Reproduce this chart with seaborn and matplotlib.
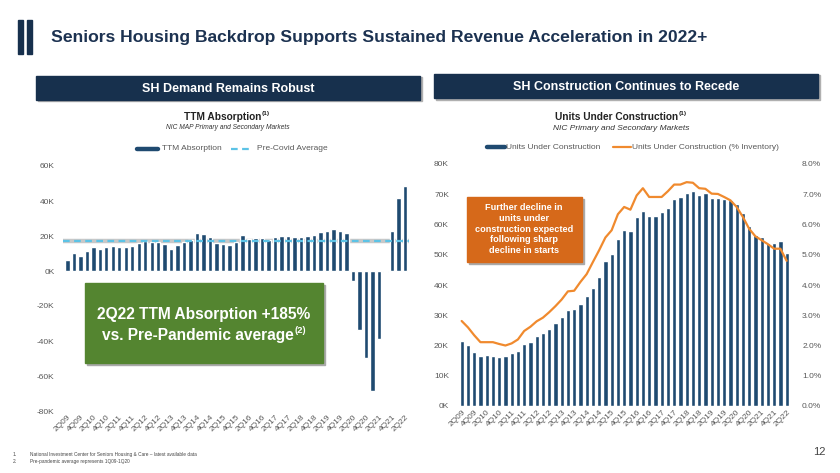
import numpy as np
import pandas as pd
import matplotlib
matplotlib.use("Agg")
import matplotlib.pyplot as plt
from matplotlib.patches import Rectangle
from matplotlib.lines import Line2D
import seaborn as sns

# ---------------- data ----------------
quarters = [f"{q}Q{y:02d}" for y in range(9, 23) for q in range(1, 5)][1:-2]  # 2Q09 .. 2Q22
tick_labels = quarters[::2]

ttm_absorption = [6200, 10500, 8600, 11200, 13500, 12400, 13800, 14500, 13800, 13800,
                  14500, 15900, 16900, 16500, 16500, 15300, 12400, 14700, 16600, 17800,
                  21500, 21100, 19700, 15900, 15700, 15100, 16400, 20700, 18400, 18700,
                  18900, 18000, 19700, 19900, 19900, 19500, 19700, 19900, 20800, 22400,
                  23000, 23900, 23000, 21600, -5800, -33500, -49800, -68400, -38700, -300,
                  23000, 42000, 48500]
pre_covid_avg = 17000

units_under_construction = [21500, 20300, 18000, 16500, 16700, 16600, 16300, 16400, 17400, 18100,
                            20400, 21200, 23200, 24000, 25600, 27500, 29500, 31600, 32000, 33600,
                            36400, 39000, 42700, 47900, 50400, 55300, 58100, 57700, 62500, 64500,
                            62700, 62800, 64000, 65600, 68500, 69100, 70400, 71100, 69600, 70400,
                            68700, 68700, 68500, 68000, 66700, 63900, 59600, 56400, 55900, 53900,
                            53900, 54700, 50700]
pct_inventory = [2.81, 2.60, 2.34, 2.11, 2.11, 2.11, 2.05, 2.00, 2.07, 2.20,
                 2.48, 2.62, 2.80, 2.92, 3.10, 3.30, 3.52, 3.79, 3.81, 4.10,
                 4.36, 4.76, 5.15, 5.57, 5.81, 6.34, 6.58, 6.49, 6.96, 7.20,
                 6.91, 6.91, 6.91, 7.10, 7.32, 7.32, 7.40, 7.38, 7.20, 7.18,
                 7.02, 7.01, 6.91, 6.80, 6.58, 6.25, 5.86, 5.61, 5.48, 5.35,
                 5.20, 5.20, 4.80]

left_yticks = [-80000, -60000, -40000, -20000, 0, 20000, 40000, 60000]
right_yticks = [0, 10000, 20000, 30000, 40000, 50000, 60000, 70000, 80000]
pct_ticks = [0, 1, 2, 3, 4, 5, 6, 7, 8]

# ---------------- style ----------------
NAVY = "#1f4a70"
DARK = "#17304d"
TITLE = "#1c3251"
LIGHTBLUE = "#5cc3e6"
ORANGE = "#f08a2e"
CALLOUT = "#d6691a"
GREEN = "#548530"
GREY = "#595959"

sns.set_theme(style="white")
plt.rcParams["font.family"] = ["Liberation Sans", "DejaVu Sans"]

W, H = 840, 473
fig = plt.figure(figsize=(W / 100, H / 100), dpi=100)
fig.patch.set_facecolor("white")


def rect(x0, y0, x1, y1):
    return [x0 / W, 1 - y1 / H, (x1 - x0) / W, (y1 - y0) / H]


def fx(x):
    return x / W


def fy(y):
    return 1 - y / H


def text_with_sup(xc, yc, main, sup, size, supsize, color, weight="bold", zorder=6, dy=3.5):
    """Centered main text (incl. superscript width) with superscript after it."""
    t = fig.text(fx(xc), fy(yc), main, fontsize=size, fontweight=weight, color=color,
                 ha="left", va="center", zorder=zorder)
    s = fig.text(0, fy(yc - dy), sup, fontsize=supsize, fontweight=weight, color=color,
                 ha="left", va="center", zorder=zorder)
    r = fig.canvas.get_renderer()
    wt = t.get_window_extent(r).width
    ws = s.get_window_extent(r).width
    start = xc - (wt + ws + 0.5) / 2
    t.set_x(fx(start))
    s.set_x(fx(start + wt + 0.5))
    return t, s


# ---------------- header ----------------
fig.patches.append(Rectangle((fx(18), fy(54)), 5 / W, 34 / H, transform=fig.transFigure,
                             color=DARK, zorder=5))
fig.patches.append(Rectangle((fx(26.5), fy(54)), 5 / W, 34 / H, transform=fig.transFigure,
                             color=DARK, zorder=5))
fig.text(fx(51), fy(37.5), "Seniors Housing Backdrop Supports Sustained Revenue Acceleration in 2022+",
         fontsize=12.6, fontweight="bold", color=TITLE, va="center", ha="left")

for (x0, y0, x1, y1, txt) in [(36, 76, 420, 100, "SH Demand Remains Robust"),
                              (434, 74, 818, 98, "SH Construction Continues to Recede")]:
    fig.patches.append(Rectangle((fx(x0 + 1.5), fy(y1 + 1.5)), (x1 - x0) / W, (y1 - y0) / H,
                                 transform=fig.transFigure, color="#b0b0b0", zorder=4))
    fig.patches.append(Rectangle((fx(x0), fy(y1)), (x1 - x0) / W, (y1 - y0) / H,
                                 transform=fig.transFigure, color=DARK, zorder=5))
    fig.text(fx((x0 + x1) / 2), fy((y0 + y1) / 2 + 0.5), txt, fontsize=9, fontweight="bold",
             color="white", ha="center", va="center", zorder=6)

# ---------------- left chart ----------------
axL = fig.add_axes(rect(62.8, 166, 409.4, 411))
dfL = pd.DataFrame({"quarter": quarters, "value": ttm_absorption})
sns.barplot(data=dfL, x="quarter", y="value", color=NAVY, saturation=1, width=0.68, ax=axL)
axL.axhline(pre_covid_avg, color="#c8c8c8", lw=3.2, zorder=0.5)
axL.axhline(pre_covid_avg, color=LIGHTBLUE, lw=1.6, ls=(0, (3, 2)), zorder=3)
axL.set_xlim(-0.7, len(quarters) - 0.3)
axL.set_ylim(-80000, 60000)
axL.set_yticks(left_yticks)
axL.set_yticklabels([f"{v // 1000}K" for v in left_yticks])
axL.set_xticks(range(0, len(quarters), 2))
axL.set_xticklabels(tick_labels, rotation=45, ha="right", rotation_mode="anchor")
axL.tick_params(axis="both", length=0, labelsize=6, colors=GREY)
axL.tick_params(axis="y", pad=6)
axL.tick_params(axis="x", pad=2)
axL.set_xlabel("")
axL.set_ylabel("")
for s in axL.spines.values():
    s.set_visible(False)

text_with_sup(227, 117, "TTM Absorption", "(1)", 7.3, 4.6, "#222222")
fig.text(fx(228), fy(127.5), "NIC MAP Primary and Secondary Markets", fontsize=4.8, style="italic",
         color="#333333", ha="center", va="center")

# left legend
fig.lines.append(Line2D([fx(137), fx(158)], [fy(149), fy(149)], transform=fig.transFigure,
                        color=NAVY, lw=3.2))
fig.text(fx(162), fy(149), "TTM Absorption", fontsize=6, color=GREY, va="center")
fig.lines.append(Line2D([fx(231), fx(252)], [fy(149), fy(149)], transform=fig.transFigure,
                        color=LIGHTBLUE, lw=1.6, ls=(0, (3, 2))))
fig.text(fx(257), fy(149), "Pre-Covid Average", fontsize=6, color=GREY, va="center")

# green callout
fig.patches.append(Rectangle((fx(87), fy(365)), 238 / W, 80 / H, transform=fig.transFigure,
                             color="#a9a9a9", zorder=4))
fig.patches.append(Rectangle((fx(85), fy(363)), 238 / W, 80 / H, transform=fig.transFigure,
                             color=GREEN, zorder=5))
fig.text(fx(204), fy(314.5), "2Q22 TTM Absorption +185%", fontsize=11.2, fontweight="bold",
         color="white", ha="center", va="center", zorder=6)
text_with_sup(204, 335, "vs. Pre-Pandemic average", "(2)", 11.2, 6.8, "white", dy=4.5)

# ---------------- right chart ----------------
axR = fig.add_axes(rect(457.3, 164, 791, 406))
dfR = pd.DataFrame({"quarter": quarters, "units": units_under_construction,
                    "pct": pct_inventory, "idx": np.arange(len(quarters))})
sns.barplot(data=dfR, x="quarter", y="units", color=NAVY, saturation=1, width=0.68, ax=axR)
axR.set_xlim(-0.7, len(quarters) - 0.3)
axR.set_ylim(0, 80000)
axR.set_yticks(right_yticks)
axR.set_yticklabels([f"{v // 1000}K" for v in right_yticks])
axR.set_xticks(range(0, len(quarters), 2))
axR.set_xticklabels(tick_labels, rotation=45, ha="right", rotation_mode="anchor")
axR.tick_params(axis="both", length=0, labelsize=6, colors=GREY)
axR.tick_params(axis="y", pad=6)
axR.tick_params(axis="x", pad=2)
axR.set_xlabel("")
axR.set_ylabel("")
for s in axR.spines.values():
    s.set_visible(False)

axR2 = axR.twinx()
sns.lineplot(data=dfR, x="idx", y="pct", color=ORANGE, lw=1.6, ax=axR2)
axR2.set_ylim(0, 8)
axR2.set_yticks(pct_ticks)
axR2.set_yticklabels([f"{v:.1f}%" for v in pct_ticks])
axR2.tick_params(axis="y", length=0, labelsize=6, colors=GREY, pad=8)
axR2.set_xlim(-0.7, len(quarters) - 0.3)
axR2.set_ylabel("")
axR2.set_xlabel("")
for s in axR2.spines.values():
    s.set_visible(False)
axR2.grid(False)

text_with_sup(621, 116.5, "Units Under Construction", "(1)", 7.3, 4.6, "#222222")
fig.text(fx(621), fy(128.5), "NIC Primary and Secondary Markets", fontsize=6, style="italic",
         color="#333333", ha="center", va="center")

# right legend
fig.lines.append(Line2D([fx(487), fx(505)], [fy(147.5), fy(147.5)], transform=fig.transFigure,
                        color=NAVY, lw=3.2))
fig.text(fx(506), fy(147.5), "Units Under Construction", fontsize=6, color=GREY, va="center")
fig.lines.append(Line2D([fx(613), fx(631)], [fy(147.5), fy(147.5)], transform=fig.transFigure,
                        color=ORANGE, lw=1.6))
fig.text(fx(632), fy(147.5), "Units Under Construction (% Inventory)", fontsize=6, color=GREY,
         va="center")

# orange callout
fig.patches.append(Rectangle((fx(468.5), fy(263.5)), 115 / W, 65 / H, transform=fig.transFigure,
                             color="#a9a9a9", zorder=4))
fig.patches.append(Rectangle((fx(466.7), fy(261.7)), 115 / W, 65 / H, transform=fig.transFigure,
                             color=CALLOUT, zorder=5))
fig.text(fx(524.2), fy(229.2),
         "Further decline in\nunits under\nconstruction expected\nfollowing sharp\ndecline in starts",
         fontsize=6.6, fontweight="bold", color="white", ha="center", va="center",
         linespacing=1.25, zorder=6)

# ---------------- footnotes ----------------
fig.text(fx(13), fy(454), "1.", fontsize=3.4, color="#444444", va="center")
fig.text(fx(30), fy(454), "National Investment Center for Seniors Housing & Care \u2013 latest available data",
         fontsize=3.4, color="#444444", va="center")
fig.text(fx(13), fy(461), "2.", fontsize=3.4, color="#444444", va="center")
fig.text(fx(30), fy(461), "Pre-pandemic average represents 1Q09-1Q20", fontsize=3.4,
         color="#444444", va="center")
fig.text(fx(826), fy(452), "12", fontsize=8, color="#444444", ha="right", va="center")

fig.savefig("out.png", dpi=100, facecolor="white")
